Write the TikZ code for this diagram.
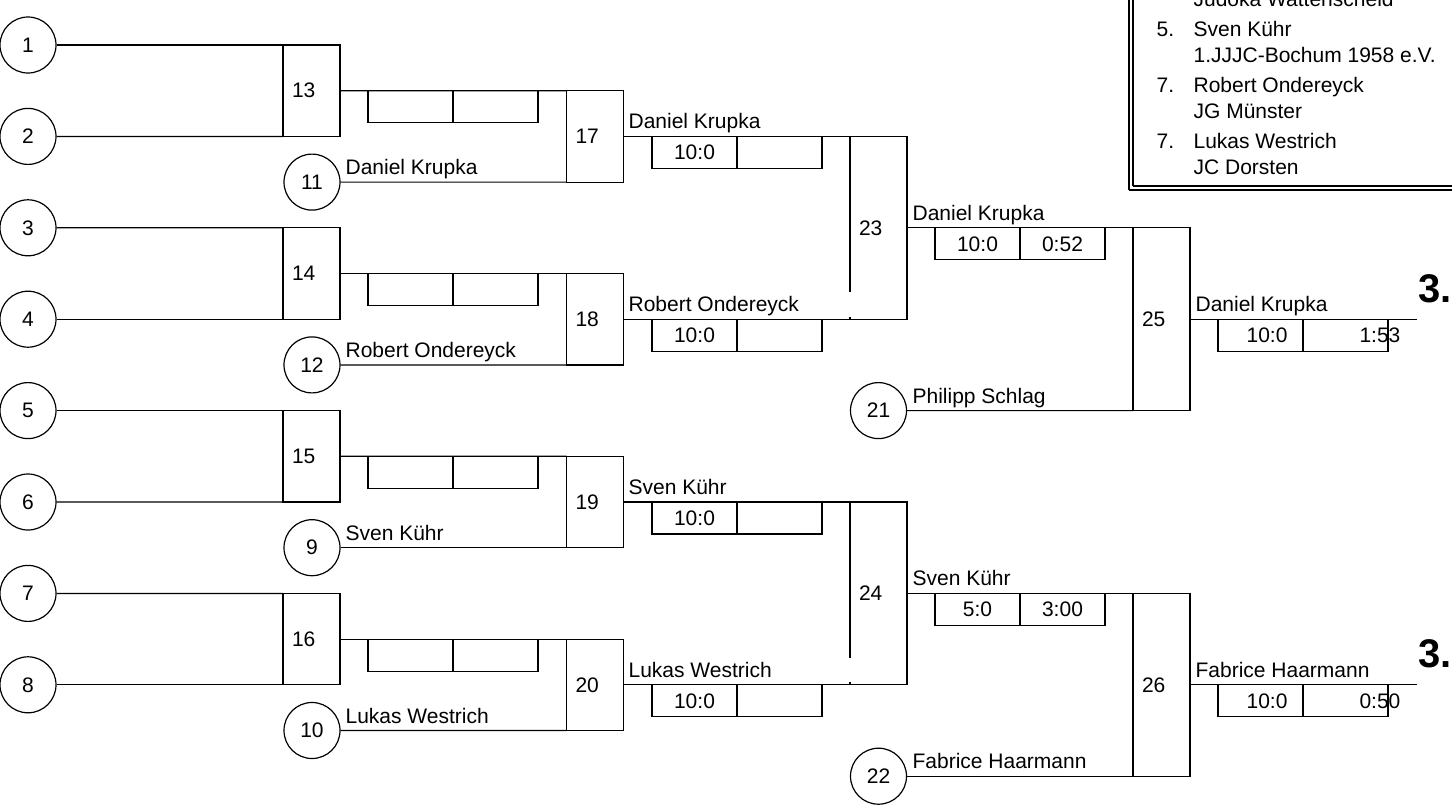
\documentclass[tikz,border=0pt]{standalone}
\usepackage{fontspec}
\setmainfont{Liberation Sans}
\usepackage{tikz}
\usetikzlibrary{positioning}
\tikzstyle{pool} = [circle, draw, minimum size = 28pt, inner sep = 0]
\tikzstyle{fight} = [rectangle, draw, text width = 19.5pt, align = left, inner xsep = 4.5pt, inner ysep = 0, outer sep = 0]
\tikzstyle{scorecell} = [rectangle, draw, minimum width = 42.5pt, minimum height = 16pt, inner sep = 0, outer sep = 0]
\tikzstyle{who} = [draw = none, inner sep = 0, anchor = base west]
\tikzstyle{place} = [draw = none, inner sep = 0, anchor = base west, font = \fontsize{20}{24}\selectfont\bfseries]

\begin{document}
\begin{tikzpicture}[x = 0.5pt, y = -0.5pt, line width = 0.6pt, font = \fontsize{10.5}{12}\selectfont]
\useasboundingbox (0, 0) rectangle (1452, 809);
% first round
\node [pool] (c1) at (28, 45) {1};
\node [pool] (c2) at (28, 136.4) {2};
\node [pool] (c3) at (28, 227.8) {3};
\node [pool] (c4) at (28, 319.2) {4};
\node [pool] (c5) at (28, 410.6) {5};
\node [pool] (c6) at (28, 502) {6};
\node [pool] (c7) at (28, 593.4) {7};
\node [pool] (c8) at (28, 684.8) {8};
\node [fight, minimum height = 45.7pt] (b13) at (311.5, 90.7) {13};
\node [fight, minimum height = 45.7pt] (b14) at (311.5, 273.5) {14};
\node [fight, minimum height = 45.7pt] (b15) at (311.5, 456.3) {15};
\node [fight, minimum height = 45.7pt] (b16) at (311.5, 639.1) {16};
\draw (c1.east) to (b13.north west);
\draw (c2.east) to (b13.south west);
\draw (c3.east) to (b14.north west);
\draw (c4.east) to (b14.south west);
\draw (c5.east) to (b15.north west);
\draw (c6.east) to (b15.south west);
\draw (c7.east) to (b16.north west);
\draw (c8.east) to (b16.south west);
\node [scorecell, anchor = north west] (s13a) at (368, 90.7) {};
\node [scorecell, right = 0pt of s13a] (s13b) {};
\node [scorecell, anchor = north west] (s14a) at (368, 273.5) {};
\node [scorecell, right = 0pt of s14a] (s14b) {};
\node [scorecell, anchor = north west] (s15a) at (368, 456.3) {};
\node [scorecell, right = 0pt of s15a] (s15b) {};
\node [scorecell, anchor = north west] (s16a) at (368, 639.1) {};
\node [scorecell, right = 0pt of s16a] (s16b) {};
% second round
\node [pool] (c11) at (312, 182.1) {11};
\node [pool] (c12) at (312, 364.9) {12};
\node [pool] (c9) at (312, 547.7) {9};
\node [pool] (c10) at (312, 730.5) {10};
\node [who] (n11) at (345, 174.6) {Daniel Krupka};
\node [who] (n12) at (345, 357.4) {Robert Ondereyck};
\node [who] (n9) at (345, 540.2) {Sven Kühr};
\node [who] (n10) at (345, 723) {Lukas Westrich};
\node [fight, minimum height = 45.7pt] (b17) at (595, 136.4) {17};
\node [fight, minimum height = 45.7pt] (b18) at (595, 319.2) {18};
\node [fight, minimum height = 45.7pt] (b19) at (595, 502) {19};
\node [fight, minimum height = 45.7pt] (b20) at (595, 684.8) {20};
\draw (b13.east) to (b17.north west);
\draw (c11.east) to (b17.south west);
\draw (b14.east) to (b18.north west);
\draw (c12.east) to (b18.south west);
\draw (b15.east) to (b19.north west);
\draw (c9.east) to (b19.south west);
\draw (b16.east) to (b20.north west);
\draw (c10.east) to (b20.south west);
\node [who] (n17) at (628, 128.9) {Daniel Krupka};
\node [who] (n18) at (628, 311.7) {Robert Ondereyck};
\node [who] (n19) at (628, 494.5) {Sven Kühr};
\node [who] (n20) at (628, 677.3) {Lukas Westrich};
\node [scorecell, anchor = north west] (s17a) at (652, 136.4) {10:0};
\node [scorecell, right = 0pt of s17a] (s17b) {};
\node [scorecell, anchor = north west] (s18a) at (652, 319.2) {10:0};
\node [scorecell, right = 0pt of s18a] (s18b) {};
\node [scorecell, anchor = north west] (s19a) at (652, 502) {10:0};
\node [scorecell, right = 0pt of s19a] (s19b) {};
\node [scorecell, anchor = north west] (s20a) at (652, 684.8) {10:0};
\node [scorecell, right = 0pt of s20a] (s20b) {};
% semi finals
\node [fight, draw = none, minimum height = 91.4pt] (b23) at (878.5, 227.8) {23};
\node [fight, draw = none, minimum height = 91.4pt] (b24) at (878.5, 593.4) {24};
\draw (b23.north west) -- (b23.north east) -- (b23.south east) -- (b23.south west) -- ++(0, -2.5);
\draw (b23.north west) -- ++(0, 156);
\draw (b24.north west) -- (b24.north east) -- (b24.south east) -- (b24.south west) -- ++(0, -2.5);
\draw (b24.north west) -- ++(0, 156);
\draw (b17.east) to (b23.north west);
\draw (b18.east) to (b23.south west);
\draw (b19.east) to (b24.north west);
\draw (b20.east) to (b24.south west);
\node [who] (n23) at (912, 220.3) {Daniel Krupka};
\node [who] (n24) at (912, 585.9) {Sven Kühr};
\node [scorecell, anchor = north west] (s23a) at (935, 227.8) {10:0};
\node [scorecell, right = 0pt of s23a] (s23b) {0:52};
\node [scorecell, anchor = north west] (s24a) at (935, 593.4) {5:0};
\node [scorecell, right = 0pt of s24a] (s24b) {3:00};
% repechage bouts
\node [pool] (c21) at (878.5, 410.6) {21};
\node [pool] (c22) at (878.5, 776.2) {22};
\node [who] (n21) at (912, 403.1) {Philipp Schlag};
\node [who] (n22) at (912, 768.7) {Fabrice Haarmann};
\node [fight, minimum height = 91.4pt] (b25) at (1161.5, 319.2) {25};
\node [fight, minimum height = 91.4pt] (b26) at (1161.5, 684.8) {26};
\draw (b23.east) to (b25.north west);
\draw (c21.east) to (b25.south west);
\draw (b24.east) to (b26.north west);
\draw (c22.east) to (b26.south west);
\coordinate (w25) at (1417, 319.2);
\coordinate (w26) at (1417, 684.8);
\draw (b25.east) to (w25);
\draw (b26.east) to (w26);
\node [who] (n25) at (1195, 311.7) {Daniel Krupka};
\node [who] (n26) at (1195, 677.3) {Fabrice Haarmann};
\node [scorecell, anchor = north west] (s25a) at (1218, 319.2) {\hspace*{6.5pt}10:0};
\node [scorecell, right = 0pt of s25a] (s25b) {};
\node [scorecell, anchor = north west] (s26a) at (1218, 684.8) {\hspace*{6.5pt}10:0};
\node [scorecell, right = 0pt of s26a] (s26b) {};
\node [draw = none, inner sep = 0, anchor = east] (t25) at ([xshift = 6.5pt]s25b.east) {1:53};
\node [draw = none, inner sep = 0, anchor = east] (t26) at ([xshift = 6.5pt]s26b.east) {0:50};
\node [place] (p25) at (1418, 302) {3.};
\node [place] (p26) at (1418, 667) {3.};
% result list
\draw (1129, 190) -- (1129, -20);
\draw (1129, 190) -- (1470, 190);
\draw (1133, 186) -- (1133, -20);
\draw (1133, 186) -- (1470, 186);
\node [who] (r4c) at (1193, 6) {Judoka Wattenscheid};
\node [who] (r5) at (1156, 36) {5.};
\node [who] (r5n) at (1193, 36) {Sven Kühr};
\node [who] (r5c) at (1193, 62) {1.JJJC-Bochum 1958 e.V.};
\node [who] (r7) at (1156, 92) {7.};
\node [who] (r7n) at (1193, 92) {Robert Ondereyck};
\node [who] (r7c) at (1193, 118) {JG Münster};
\node [who] (r8) at (1156, 148) {7.};
\node [who] (r8n) at (1193, 148) {Lukas Westrich};
\node [who] (r8c) at (1193, 174) {JC Dorsten};
\end{tikzpicture}
\end{document}
